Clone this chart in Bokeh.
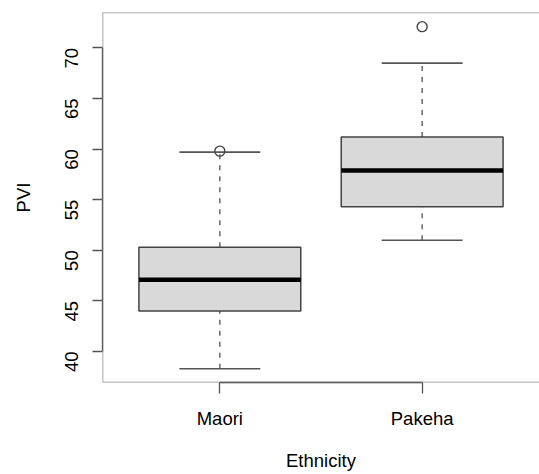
import math
from bokeh.plotting import figure
from bokeh.models import Range1d, FixedTicker, BoxAnnotation, ColumnDataSource
from bokeh.embed import file_html
from bokeh.resources import INLINE

# ---- data ----
groups = ["Maori", "Pakeha"]
xpos = [1, 2]
lower_whisker = [38.3, 51.0]
q1 = [44.0, 54.3]
median = [47.1, 57.9]
q3 = [50.3, 61.2]
upper_whisker = [59.7, 68.5]
outlier_x = [1, 2]
outlier_y = [59.8, 72.1]
y_ticks = [40, 45, 50, 55, 60, 65, 70]

BOX_W = 0.8
STAPLE_W = 0.4
FONT = "Liberation Sans"
FS = "18.5px"

p = figure(width=539, height=474, output_backend="svg", toolbar_location=None,
           x_range=Range1d(0.42, 2.58), y_range=Range1d(36.94, 73.5),
           min_border_left=102, min_border_right=0, min_border_top=12, min_border_bottom=92)
p.grid.visible = False
p.outline_line_color = None
p.background_fill_color = "white"
p.border_fill_color = "white"

src = ColumnDataSource(dict(
    x=xpos, lo=lower_whisker, q1=q1, med=median, q3=q3, hi=upper_whisker,
    xl=[x - BOX_W / 2 for x in xpos], xr=[x + BOX_W / 2 for x in xpos],
    sl=[x - STAPLE_W / 2 for x in xpos], sr=[x + STAPLE_W / 2 for x in xpos],
))

# whiskers (dashed)
p.segment(x0="x", y0="q3", x1="x", y1="hi", source=src, line_color="#666666",
          line_width=1.5, line_dash="5 6")
p.segment(x0="x", y0="lo", x1="x", y1="q1", source=src, line_color="#666666",
          line_width=1.5, line_dash="5 6")
# staples
p.segment(x0="sl", y0="hi", x1="sr", y1="hi", source=src, line_color="#555555", line_width=1.6)
p.segment(x0="sl", y0="lo", x1="sr", y1="lo", source=src, line_color="#555555", line_width=1.6)
# boxes
p.vbar(x="x", width=BOX_W, bottom="q1", top="q3", source=src,
       fill_color="#d9d9d9", line_color="#444444", line_width=1.5)
# medians
p.segment(x0="xl", y0="med", x1="xr", y1="med", source=src, line_color="black", line_width=4.5)
# outliers
p.scatter(outlier_x, outlier_y, marker="circle", size=10, fill_color=None,
          line_color="#444444", line_width=1.4)

# plot frame (right edge falls outside the window as in the reference)
p.add_layout(BoxAnnotation(left=0.42, right=2.62, fill_alpha=0, line_alpha=1.0,
                           line_color="#8a8a8a", line_width=1.5))

# axes
xa = p.xaxis[0]
xa.ticker = FixedTicker(ticks=xpos)
xa.major_label_overrides = {x: g for x, g in zip(xpos, groups)}
xa.bounds = (1, 2)
xa.minor_tick_line_color = None
xa.major_tick_in = 0
xa.major_tick_out = 11
xa.axis_line_color = "#333333"
xa.major_tick_line_color = "#555555"
xa.axis_line_width = 1.3
xa.major_tick_line_width = 1.3
xa.major_label_text_font = FONT
xa.major_label_text_font_size = FS
xa.major_label_text_color = "black"
xa.major_label_standoff = 14
xa.axis_label = "Ethnicity"
xa.axis_label_text_font = FONT
xa.axis_label_text_font_size = FS
xa.axis_label_text_font_style = "normal"
xa.axis_label_text_color = "black"
xa.axis_label_standoff = 18

ya = p.yaxis[0]
ya.ticker = FixedTicker(ticks=y_ticks)
ya.bounds = (40, 70)
ya.minor_tick_line_color = None
ya.major_tick_in = 0
ya.major_tick_out = 10
ya.axis_line_color = "#333333"
ya.major_tick_line_color = "#555555"
ya.axis_line_width = 1.3
ya.major_tick_line_width = 1.3
ya.major_label_orientation = math.pi / 2
ya.major_label_text_font = FONT
ya.major_label_text_font_size = FS
ya.major_label_text_color = "black"
ya.major_label_standoff = 21
ya.axis_label = "PVI"
ya.axis_label_text_font = FONT
ya.axis_label_text_font_size = FS
ya.axis_label_text_font_style = "normal"
ya.axis_label_text_color = "black"
ya.axis_label_standoff = 22

open("out.html", "w").write(file_html(p, INLINE))
